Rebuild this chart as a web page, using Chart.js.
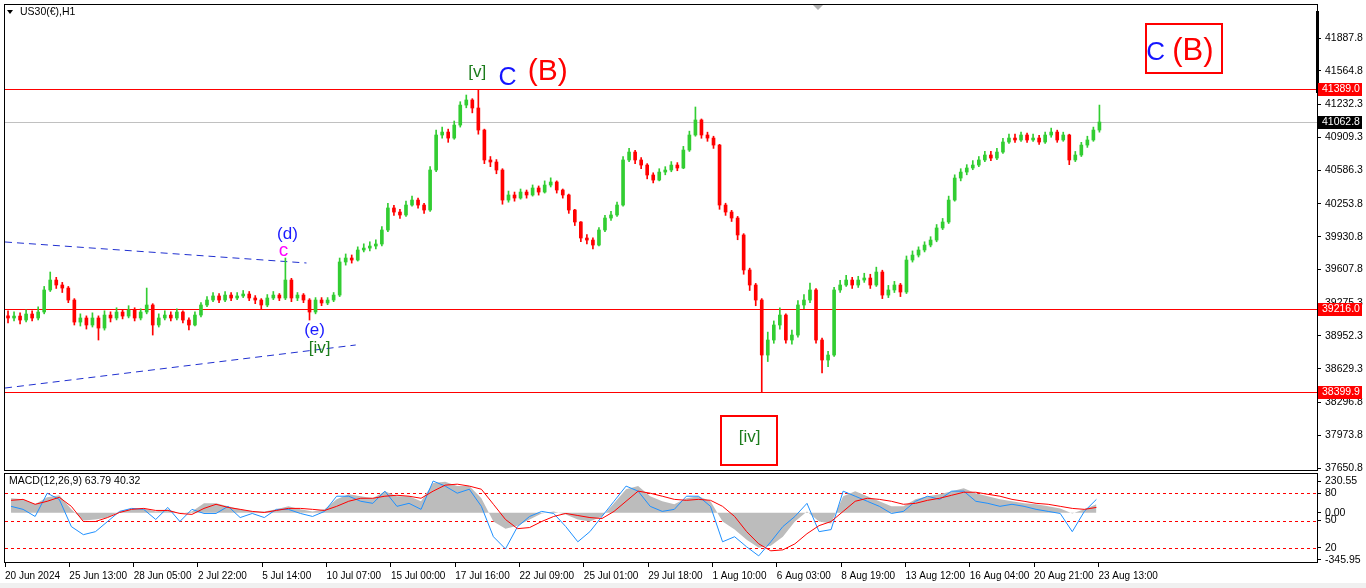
<!DOCTYPE html>
<html><head><meta charset="utf-8">
<script src="https://cdn.jsdelivr.net/npm/chart.js@4/dist/chart.umd.min.js"></script>
<style>
html,body{margin:0;padding:0;background:#fff;width:1366px;height:588px;overflow:hidden;}
#c1{position:absolute;left:0;top:0;}
#c2{position:absolute;left:0;top:472px;}
</style></head><body>
<canvas id="c1" width="1366" height="472"></canvas>
<canvas id="c2" width="1366" height="116"></canvas>
<script>
// ---------------- DATA ----------------
const symbolTitle = 'US30(€),H1';
const macdTitle = 'MACD(12,26,9) 63.79 40.32';
const hoursPerCandle = 6;
const firstOpen = 39150;
const closes = [39129,39148,39109,39168,39129,39188,39405,39503,39454,39424,
39306,39089,39129,39060,39129,39030,39158,39129,39188,39148,
39208,39129,39188,39257,39060,39129,39158,39129,39188,39109,
39060,39158,39257,39306,39346,39306,39355,39326,39346,39365,
39326,39306,39257,39326,39355,39326,39503,39326,39355,39306,
39188,39306,39277,39306,39355,39681,39720,39700,39799,39818,
39838,39858,39996,40213,40173,40144,40242,40291,40242,40193,
40587,40932,40961,40902,41030,41227,41277,41198,40981,40686,
40666,40587,40291,40341,40311,40370,40341,40410,40370,40439,
40469,40390,40341,40193,40075,39917,39897,39848,39996,40114,
40144,40242,40686,40764,40686,40636,40538,40488,40567,40587,
40636,40607,40784,40932,41080,40932,40902,40833,40242,40173,
40114,39947,39602,39454,39306,38764,38912,39060,39158,38912,
38961,39257,39306,39405,38912,38715,38764,39405,39454,39503,
39454,39503,39523,39454,39582,39355,39405,39454,39385,39700,
39749,39799,39848,39897,40016,40075,40291,40508,40567,40607,
40636,40686,40735,40705,40764,40863,40902,40883,40932,40883,
40902,40863,40932,40961,40883,40932,40686,40735,40833,40883,
40981,41060];
const highs = [39200,39190,39180,39210,39200,39240,39440,39582,39530,39480,
39440,39320,39170,39150,39180,39150,39200,39190,39230,39210,
39250,39230,39220,39424,39270,39170,39200,39190,39220,39200,
39130,39190,39280,39340,39380,39370,39390,39380,39380,39400,
39390,39350,39320,39360,39390,39370,39720,39520,39380,39370,
39320,39330,39330,39330,39380,39720,39760,39750,39830,39860,
39880,39900,40030,40260,40240,40200,40280,40330,40310,40260,
40620,40980,41010,40990,41070,41260,41326,41290,41375,40990,
40720,40690,40600,40380,40370,40400,40390,40440,40430,40480,
40510,40480,40400,40350,40200,40080,39950,39920,40020,40140,
40180,40270,40720,40800,40780,40710,40650,40560,40600,40620,
40670,40660,40820,40970,41208,41090,40960,40920,40840,40260,
40190,40130,39960,39620,39470,39320,38990,39100,39230,39170,
39010,39300,39360,39474,39420,38930,38800,39430,39500,39550,
39530,39540,39570,39560,39630,39600,39450,39490,39470,39740,
39790,39830,39880,39930,40050,40110,40330,40540,40600,40640,
40680,40720,40770,40770,40800,40900,40940,40940,40960,40950,
40940,40930,40960,41000,40980,40960,40940,40770,40860,40920,
41010,41227];
const lows = [39080,39100,39070,39090,39100,39110,39170,39390,39420,39380,
39280,39060,39050,39020,39040,38912,39010,39090,39110,39120,
39130,39100,39110,39170,38961,39040,39110,39100,39110,39080,
39011,39050,39140,39240,39290,39280,39290,39300,39310,39330,
39300,39270,39220,39240,39310,39300,39310,39290,39300,39280,
39109,39170,39250,39260,39290,39340,39650,39670,39690,39780,
39790,39810,39840,39980,40140,40110,40130,40230,40210,40160,
40180,40570,40900,40860,40890,41010,41200,41150,40940,40650,
40620,40550,40250,40270,40280,40300,40310,40330,40340,40360,
40420,40360,40310,40160,40040,39880,39860,39810,39840,39980,
40090,40130,40230,40670,40650,40600,40500,40460,40480,40540,
40570,40580,40600,40770,40920,40900,40870,40800,40200,40140,
40080,39900,39560,39400,39250,38400,38700,38880,39020,38880,
38870,38940,39220,39280,38880,38587,38650,38750,39380,39440,
39420,39430,39480,39420,39440,39320,39330,39380,39340,39370,
39680,39730,39780,39830,39880,40000,40060,40280,40480,40540,
40590,40620,40670,40680,40690,40750,40850,40860,40870,40860,
40870,40840,40850,40910,40860,40870,40640,40670,40720,40810,
40870,40960];

const priceTicks = [41887.8,41564.8,41232.3,40909.3,40586.3,40253.8,39930.8,39607.8,39275.3,38952.3,38629.3,38296.8,37973.8,37650.8];
const levelPrices = [41389.0, 39216.0, 38399.9];
const currentPrice = 41062.8;

const xTickHours = [0,64,128,192,256,320,384,448,512,576,640,704,768,832,896,960,1024,1088];
const xTickLabels = ['20 Jun 2024','25 Jun 13:00','28 Jun 05:00','2 Jul 22:00','5 Jul 14:00','10 Jul 07:00','15 Jul 00:00','17 Jul 16:00','22 Jul 09:00','25 Jul 01:00','29 Jul 18:00','1 Aug 10:00','6 Aug 03:00','8 Aug 19:00','13 Aug 12:00','16 Aug 04:00','20 Aug 21:00','23 Aug 13:00'];

// trend lines (bar index, price)
const upperTrendHours = [0, 300];
const upperTrendPrices = [39878, 39671];
const lowerTrendHours = [0, 349];
const lowerTrendPrices = [38439, 38863];

// MACD panel, one sample every 12 bars
const macdHoursPerSample = 12;
const macdMain = [105,97,61,112,127,24,-58,-50,-36,9,24,31,9,24,-6,9,68,68,46,24,9,9,24,46,24,
9,24,97,134,120,105,157,120,120,83,216,225,194,194,105,-65,-117,-95,-50,-6,9,-13,-50,-65,-28,
68,171,194,120,83,61,105,120,83,-65,-124,-198,-257,-242,-176,-65,9,-65,-80,120,
157,120,83,46,46,97,120,134,157,179,142,120,97,83,68,61,46,31,-6,24,61];
const macdSignal = [90,97,61,83,112,46,-65,-65,-36,1,24,31,16,16,-6,-13,31,61,38,24,9,1,16,31,31,
24,16,46,83,105,105,120,127,120,105,157,201,208,194,171,61,-50,-117,-109,-65,-28,-6,-21,-36,-43,
9,83,157,142,120,97,90,97,90,46,-28,-139,-228,-279,-272,-228,-154,-95,-65,9,
83,105,97,83,61,68,90,105,127,149,149,134,120,97,83,68,61,46,31,24,38];
const macdBlue = [46,24,-28,142,97,-102,-161,-139,-65,9,31,24,-50,38,-65,24,-6,-6,46,-36,-6,-36,24,24,-6,
-28,9,120,120,83,68,157,46,68,24,231,194,142,171,46,-176,-265,-102,-28,9,-6,-102,-213,-139,-28,
83,194,157,46,9,24,120,120,46,-213,-176,-250,-316,-213,-102,-28,68,-139,-124,157,
120,83,46,-6,9,83,120,97,157,157,83,68,46,61,46,24,9,-6,-139,9,97];
const macdTickValues = [230.55, 141.9, 0, -57.7, -257.3, -345.95];
const macdTickLabels = ['230.55','80','0.00','50','20','-345.95'];
const macdLevelValues = [141.9, -57.7, -257.3];

// text annotations anchored at (bar index, price)
const notes = [
  {text:'[v]', h:470, p:41553, color:'#1c7c1c', size:17},
  {text:'C',   h:500, p:41493, color:'#1414ff', size:25},
  {text:'(B)', h:540, p:41553, color:'#ff0000', size:30},
  {text:'(d)', h:281, p:39956, color:'#1a1aff', size:17},
  {text:'c',   h:277, p:39790, color:'#ff00ff', size:19},
  {text:'(e)', h:308, p:39010, color:'#1a1aff', size:17},
  {text:'[iv]',h:313, p:38833, color:'#1c7c1c', size:17},
  {text:'C',   h:1145, p:41745, color:'#1414ff', size:26},
  {text:'(B)', h:1182, p:41755, color:'#ff0000', size:31},
  {text:'[iv]',h:741, p:37950, color:'#1c7c1c', size:17}
];
const boxes = [
  {h0:1135, h1:1211, p0:42025, p1:41543},
  {h0:712, h1:768, p0:38163, p1:37680}
];

// ---------------- CHART ----------------
const FONT = "'Liberation Sans', Arial, sans-serif";
const UP = '#32cd32', DOWN = '#ff0000';
const X_MIN = 0, X_MAX = 1305.5;
const Y_MIN = 37631.3, Y_MAX = 42213.0;

const opens = closes.map((c, i) => i === 0 ? firstOpen : closes[i - 1]);
const centers = closes.map((c, i) => i * hoursPerCandle + hoursPerCandle / 2);
const colors = closes.map((c, i) => c >= opens[i] ? UP : DOWN);
const wickData = closes.map((c, i) => ({x: centers[i], y: [Math.min(lows[i], opens[i], c), Math.max(highs[i], opens[i], c)]}));
const bodyData = closes.map((c, i) => ({x: centers[i], y: [opens[i], c]}));

function hline(ctx, x0, x1, y) { ctx.beginPath(); ctx.moveTo(x0, y); ctx.lineTo(x1, y); ctx.stroke(); }

const mainDecor = {
  id: 'mainDecor',
  beforeDatasetsDraw(chart) {
    const {ctx, chartArea: a, scales: {x, y}} = chart;
    ctx.save();
    ctx.beginPath(); ctx.rect(a.left, a.top, a.right - a.left, a.bottom - a.top); ctx.clip();
    ctx.lineWidth = 1;
    ctx.strokeStyle = '#c0c0c0';
    hline(ctx, a.left, a.right, Math.round(y.getPixelForValue(currentPrice)) + 0.5);
    ctx.strokeStyle = '#ff0000';
    levelPrices.forEach(p => hline(ctx, a.left, a.right, Math.round(y.getPixelForValue(p)) + 0.5));
    ctx.strokeStyle = '#2030d0';
    ctx.setLineDash([7, 5]);
    [[upperTrendHours, upperTrendPrices], [lowerTrendHours, lowerTrendPrices]].forEach(([hs, ps]) => {
      ctx.beginPath();
      ctx.moveTo(x.getPixelForValue(hs[0]), y.getPixelForValue(ps[0]));
      ctx.lineTo(x.getPixelForValue(hs[1]), y.getPixelForValue(ps[1]));
      ctx.stroke();
    });
    ctx.restore();
  },
  afterDatasetsDraw(chart) {
    const {ctx, scales: {x, y}} = chart;
    ctx.save();
    ctx.strokeStyle = '#ff0000'; ctx.lineWidth = 2;
    boxes.forEach(b => {
      const x0 = Math.round(x.getPixelForValue(b.h0)), x1 = Math.round(x.getPixelForValue(b.h1));
      const y0 = Math.round(y.getPixelForValue(b.p0)), y1 = Math.round(y.getPixelForValue(b.p1));
      ctx.strokeRect(x0, y0, x1 - x0, y1 - y0);
    });
    ctx.textAlign = 'center'; ctx.textBaseline = 'middle';
    notes.forEach(n => {
      ctx.font = n.size + 'px ' + FONT;
      ctx.fillStyle = n.color;
      ctx.fillText(n.text, x.getPixelForValue(n.h), y.getPixelForValue(n.p));
    });
    ctx.restore();
  },
  afterDraw(chart) {
    const {ctx, chartArea: a, scales: {y}} = chart;
    ctx.save();
    ctx.strokeStyle = '#000'; ctx.lineWidth = 1;
    ctx.strokeRect(a.left - 0.5, a.top - 0.5, a.right - a.left + 1, a.bottom - a.top + 1);
    ctx.fillStyle = '#000';
    ctx.fillRect(a.right - 1, 11, 3, 82);
    // shift marker
    ctx.fillStyle = '#b0b0b0';
    ctx.beginPath(); ctx.moveTo(813, a.top); ctx.lineTo(823, a.top); ctx.lineTo(818, a.top + 5); ctx.closePath(); ctx.fill();
    // title
    ctx.fillStyle = '#000';
    ctx.beginPath(); ctx.moveTo(7, 10); ctx.lineTo(13, 10); ctx.lineTo(10, 14); ctx.closePath(); ctx.fill();
    ctx.font = '10.5px ' + FONT; ctx.textBaseline = 'middle'; ctx.textAlign = 'left';
    ctx.fillText(symbolTitle, 20, 12.5);
    // price tags
    const tags = levelPrices.map(p => ({p, bg: '#ff0000'})).concat([{p: currentPrice, bg: '#000000'}]);
    tags.forEach(t => {
      const py = Math.round(y.getPixelForValue(t.p));
      ctx.fillStyle = t.bg;
      ctx.fillRect(a.right + 1, py - 6, 44, 13);
      ctx.fillStyle = '#fff';
      ctx.fillText(t.p.toFixed(1), a.right + 5, py + 0.5);
    });
    ctx.restore();
  }
};

new Chart(document.getElementById('c1'), {
  type: 'bar',
  data: {
    datasets: [
      {data: wickData, backgroundColor: colors, barThickness: 1, grouped: false, order: 2, minBarLength: 1},
      {data: bodyData, backgroundColor: colors, barThickness: 3, grouped: false, order: 1, minBarLength: 1}
    ]
  },
  options: {
    responsive: false, animation: false, devicePixelRatio: 1,
    layout: {padding: {left: 5, top: 5, right: 0, bottom: 2}},
    plugins: {legend: {display: false}, tooltip: {enabled: false}},
    scales: {
      x: {type: 'linear', min: X_MIN, max: X_MAX, offset: false, display: false, grid: {offset: false}},
      y: {
        position: 'right', min: Y_MIN, max: Y_MAX,
        afterBuildTicks: s => { s.ticks = priceTicks.map(v => ({value: v})); },
        afterFit: s => { s.width = 49; s.paddingTop = 0; s.paddingBottom = 0; },
        ticks: {autoSkip: false, padding: 4, color: '#000', font: {family: FONT, size: 10.5}, callback: v => Number(v).toFixed(1)},
        grid: {drawOnChartArea: false, drawTicks: true, tickLength: 4, color: '#000'},
        border: {display: false}
      }
    }
  },
  plugins: [mainDecor]
});

// ---- MACD panel ----
const macdX = macdMain.map((v, j) => j * macdHoursPerSample + macdHoursPerSample / 2);
const pts = arr => arr.map((v, j) => ({x: macdX[j], y: v}));

const macdDecor = {
  id: 'macdDecor',
  beforeDatasetsDraw(chart) {
    const {ctx, chartArea: a, scales: {y}} = chart;
    ctx.save();
    ctx.strokeStyle = '#ff0000'; ctx.lineWidth = 1; ctx.setLineDash([3, 3]);
    macdLevelValues.forEach(v => hline(ctx, a.left, a.right, Math.round(y.getPixelForValue(v)) + 0.5));
    ctx.restore();
  },
  afterDraw(chart) {
    const {ctx, chartArea: a} = chart;
    ctx.save();
    ctx.strokeStyle = '#000'; ctx.lineWidth = 1;
    ctx.strokeRect(a.left - 0.5, a.top - 0.5, a.right - a.left + 1, a.bottom - a.top + 1);
    ctx.fillStyle = '#000'; ctx.font = '10.5px ' + FONT; ctx.textBaseline = 'middle'; ctx.textAlign = 'left';
    ctx.fillText(macdTitle, 9, 9.5);
    ctx.fillStyle = '#f0f0f0';
    ctx.fillRect(0, 111, 1366, 5);
    ctx.restore();
  }
};

new Chart(document.getElementById('c2'), {
  type: 'line',
  data: {
    datasets: [
      {data: pts(macdMain), borderWidth: 0, pointRadius: 0, fill: 'origin', backgroundColor: '#bcbcbc', tension: 0, order: 3},
      {data: pts(macdBlue), borderColor: '#1e90ff', borderWidth: 1, pointRadius: 0, fill: false, tension: 0, order: 2},
      {data: pts(macdSignal), borderColor: '#ff0000', borderWidth: 1, pointRadius: 0, fill: false, tension: 0, order: 1}
    ]
  },
  options: {
    responsive: false, animation: false, devicePixelRatio: 1,
    layout: {padding: {left: 5, top: 2, right: 0, bottom: 0}},
    plugins: {legend: {display: false}, tooltip: {enabled: false}},
    scales: {
      x: {
        type: 'linear', min: X_MIN, max: X_MAX, offset: false, position: 'bottom',
        afterBuildTicks: s => { s.ticks = xTickHours.map(v => ({value: v})); },
        afterFit: s => { s.height = 26; s.paddingLeft = 0; s.paddingRight = 0; },
        ticks: {autoSkip: false, maxRotation: 0, minRotation: 0, align: 'start', padding: 3, color: '#000',
                font: {family: FONT, size: 10}, callback: (v, i) => xTickLabels[i]},
        grid: {drawOnChartArea: false, drawTicks: true, tickLength: 5, color: '#000'},
        border: {display: false}
      },
      y: {
        position: 'right', min: -360.7, max: 282.3,
        afterBuildTicks: s => { s.ticks = macdTickValues.map(v => ({value: v})); },
        afterFit: s => { s.width = 49; s.paddingTop = 0; s.paddingBottom = 0; },
        ticks: {autoSkip: false, padding: 4, color: '#000', font: {family: FONT, size: 10.5}, callback: (v, i) => macdTickLabels[i]},
        grid: {drawOnChartArea: false, drawTicks: true, tickLength: 4, color: '#000'},
        border: {display: false}
      }
    }
  },
  plugins: [macdDecor]
});
</script>
</body></html>
